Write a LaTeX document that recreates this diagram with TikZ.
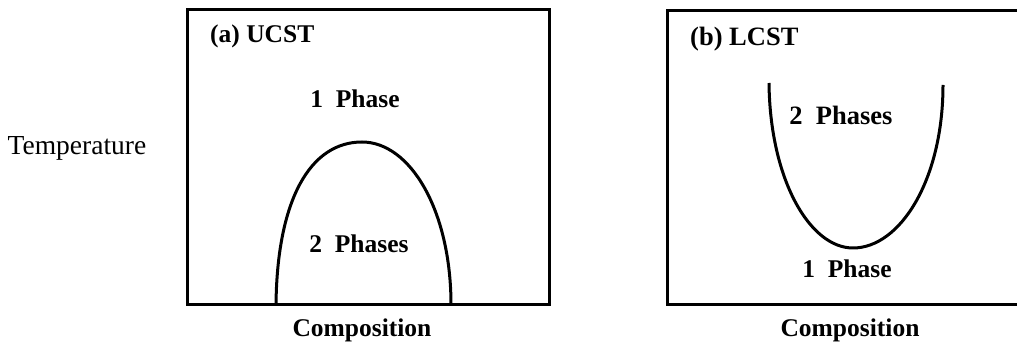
\documentclass[tikz,border=0pt]{standalone}
\usepackage{fontspec}
\setmainfont{Liberation Serif}
\begin{document}
\begin{tikzpicture}[x=1pt,y=-1pt,
  frame/.style={line width=3pt,line cap=rect,line join=miter},
  curve/.style={line width=3pt},
  lbl/.style={inner sep=0pt,font=\fontsize{25.5}{30}\selectfont\bfseries},
  axis/.style={inner sep=0pt,font=\fontsize{27.5}{30}\selectfont}]
\useasboundingbox (0,0) rectangle (1017,344);
% left panel
\draw[frame] (187,10) rectangle (549,305);
\draw[curve] (276,305) .. controls (277,200) and (310,142) .. (362,142)
             .. controls (410,142) and (451,210) .. (451,305);
\node[lbl,anchor=base west] (ta) at (210,43) {(a) UCST};
\node[lbl,anchor=base] (a1) at (355,108) {1~~Phase};
\node[lbl,anchor=base] (a2) at (359,253) {2~~Phases};
\node[axis,anchor=base] (temp) at (77,155) {Temperature};
\node[lbl,anchor=base] (compa) at (362,337) {Composition};
% right panel
\draw[frame] (1030,11) -- (667,11) -- (667,305) -- (1030,305);
\draw[curve] (769,83) .. controls (770,180) and (810,248) .. (853,248)
             .. controls (900,248) and (943,180) .. (943,85);
\node[lbl,anchor=base west,font=\fontsize{26.5}{30}\selectfont\bfseries] (tb) at (690,46) {(b) LCST};
\node[lbl,anchor=base,font=\fontsize{26.5}{30}\selectfont\bfseries] (b2) at (841,125) {2~~Phases};
\node[lbl,anchor=base] (b1) at (847,278) {1~~Phase};
\node[lbl,anchor=base] (compb) at (850,337) {Composition};
\end{tikzpicture}
\end{document}
